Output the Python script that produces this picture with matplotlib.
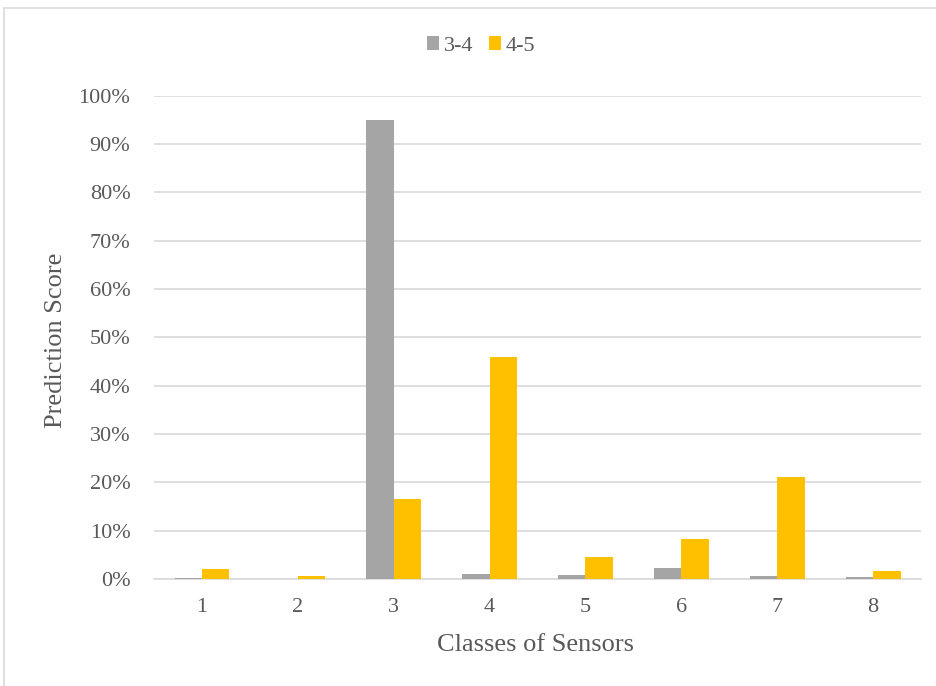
import matplotlib.pyplot as plt
import numpy as np
from matplotlib.patches import Rectangle
from matplotlib.ticker import PercentFormatter

classes = ["1", "2", "3", "4", "5", "6", "7", "8"]
score_34 = [0.25, 0.1, 95.0, 1.0, 0.9, 2.2, 0.6, 0.4]
score_45 = [2.1, 0.7, 16.5, 45.9, 4.55, 8.3, 21.0, 1.7]

plt.rcParams['font.family'] = ['Liberation Serif', 'DejaVu Serif']
txt = "#595959"

fig = plt.figure(figsize=(9.37, 6.86), dpi=100)
ax = fig.add_axes([0.1644, 0.156, 0.8186, 0.7045])

# light frame around the whole chart
fig.patches.append(Rectangle((4 / 937, -0.05), 1.1, 1 - 8.5 / 686 + 0.05,
                             transform=fig.transFigure, fill=False,
                             edgecolor="#d9d9d9", linewidth=1.2))

x = np.arange(1, len(classes) + 1)
w = 0.286
ax.bar(x - w / 2, score_34, w, color="#a5a5a5", label="3-4", zorder=3)
ax.bar(x + w / 2, score_45, w, color="#ffc000", label="4-5", zorder=3)

ax.set_xlim(0.5, 8.5)
ax.set_ylim(0, 100)
ax.set_yticks(np.arange(0, 101, 10))
ax.yaxis.set_major_formatter(PercentFormatter(decimals=0))
ax.set_xticks(x)
ax.set_xticklabels(classes)
ax.grid(axis="y", color="#d9d9d9", linewidth=1.2, zorder=0)
for s in ["top", "right", "left"]:
    ax.spines[s].set_visible(False)
ax.spines["bottom"].set_color("#d9d9d9")
ax.spines["bottom"].set_linewidth(1.2)
ax.tick_params(length=0, labelsize=16, labelcolor=txt)
ax.tick_params(axis="y", pad=17)
ax.tick_params(axis="x", pad=14)

fig.text(536 / 937, 1 - 645 / 686, "Classes of Sensors", fontsize=19,
         color=txt, ha="center", va="center")
fig.text(56 / 937, 1 - 340 / 686, "Prediction Score", fontsize=19,
         color=txt, ha="center", va="center", rotation=90)

fig.legend(loc="center", bbox_to_anchor=(481 / 937, 1 - 46 / 686), ncol=2,
           frameon=False, fontsize=16, labelcolor=txt,
           handlelength=0.55, handleheight=0.55, handletextpad=0.2,
           columnspacing=0.7)

fig.savefig("out.png", dpi=100)
